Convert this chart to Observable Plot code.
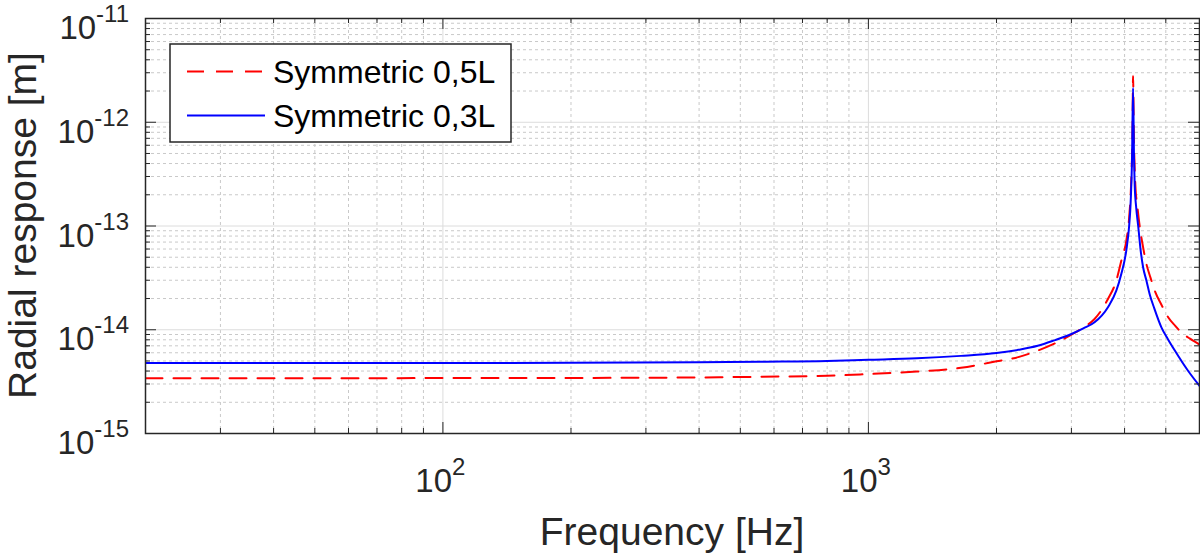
<!DOCTYPE html>
<html>
<head>
<meta charset="utf-8">
<script src="https://cdn.jsdelivr.net/npm/d3@7"></script>
<script src="https://cdn.jsdelivr.net/npm/@observablehq/plot@0.6"></script>
<style>
  html, body { margin: 0; padding: 0; background: #fff; }
  svg { display: block; }
</style>
</head>
<body>
<div id="chart"></div>
<script>
// ---------- data ----------
const seriesNames = ["Symmetric 0,5L", "Symmetric 0,3L"];
const seriesColors = ["#ff0000", "#0000ff"];

const freq05 = [20, 50, 100, 200, 400, 557, 800, 1000, 1300, 1650, 2000, 2250, 2500, 2735, 3000, 3200, 3400, 3656, 3825, 3931, 4037, 4100, 4150, 4175, 4188, 4205, 4240, 4290, 4343, 4420, 4502, 4600, 4710, 4880, 5064, 5250, 5444, 5700, 6000];
const resp05 = [3.40e-15, 3.41e-15, 3.42e-15, 3.43e-15, 3.47e-15, 3.52e-15, 3.60e-15, 3.74e-15, 3.95e-15, 4.30e-15, 4.96e-15, 5.45e-15, 6.30e-15, 7.35e-15, 8.97e-15, 1.05e-14, 1.27e-14, 1.98e-14, 2.98e-14, 4.65e-14, 7.2e-14, 1.2e-13, 3.0e-13, 8e-13, 2.79e-12, 8e-13, 2.5e-13, 1.5e-13, 9.8e-14, 6.3e-14, 4.3e-14, 3.2e-14, 2.38e-14, 1.75e-14, 1.32e-14, 1.10e-14, 9.4e-15, 8.2e-15, 7.2e-15];

const freq03 = [20, 50, 100, 200, 400, 557, 800, 1000, 1300, 1650, 2000, 2250, 2500, 2735, 3000, 3200, 3400, 3656, 3825, 3931, 4037, 4100, 4134, 4165, 4188, 4210, 4225, 4260, 4306, 4360, 4422, 4500, 4582, 4700, 4885, 5050, 5250, 5644, 6000];
const resp03 = [4.77e-15, 4.78e-15, 4.79e-15, 4.80e-15, 4.85e-15, 4.92e-15, 5.00e-15, 5.13e-15, 5.30e-15, 5.60e-15, 5.97e-15, 6.40e-15, 7.00e-15, 7.90e-15, 9.10e-15, 1.03e-14, 1.18e-14, 1.65e-14, 2.38e-14, 3.47e-14, 5.8e-14, 1.0e-13, 1.7e-13, 4.5e-13, 2.14e-12, 4.5e-13, 2.5e-13, 1.5e-13, 1.0e-13, 6.0e-14, 4.0e-14, 3.0e-14, 2.2e-14, 1.6e-14, 1.05e-14, 8.2e-15, 6.3e-15, 4.0e-15, 2.88e-15];

const xDomain = [20, 6000];
const yDomain = [1e-15, 1e-11];
const xTickExps = [2, 3];
const yTickExps = [-15, -14, -13, -12, -11];
const xTitle = "Frequency [Hz]";
const yTitle = "Radial response [m]";

// ---------- derived tables ----------
const data05 = freq05.map((f, i) => ({f, r: resp05[i]}));
const data03 = freq03.map((f, i) => ({f, r: resp03[i]}));
const majorX = xTickExps.map(e => 10 ** e);
const majorY = yTickExps.map(e => 10 ** e);
const minorX = [];
for (let d = 1; d <= 3; d++) for (let m = 2; m <= 9; m++) {
  const v = m * 10 ** d;
  if (v > xDomain[0] && v < xDomain[1]) minorX.push(v);
}
const minorY = [];
for (let d = -15; d <= -12; d++) for (let m = 2; m <= 9; m++) minorY.push(m * 10 ** d);

const FONT = "'Liberation Sans', Arial, Helvetica, sans-serif";
const INK = "#262626";
const W = 1200, H = 559;
const mL = 145, mR = 1, mT = 18, mB = 126;
const innerW = W - mL - mR, innerH = H - mT - mB;
const majLen = 11, minLen = 5;

const plot = Plot.plot({
  width: W, height: H,
  marginLeft: mL, marginRight: mR, marginTop: mT, marginBottom: mB,
  x: {type: "log", domain: xDomain, axis: null},
  y: {type: "log", domain: yDomain, axis: null},
  style: {fontFamily: FONT, background: "#fff", overflow: "visible"},
  marks: [
    Plot.ruleX(minorX, {x: d => d, stroke: "#c9c9c9", strokeWidth: 1, strokeDasharray: "3,3"}),
    Plot.ruleY(minorY, {y: d => d, stroke: "#c9c9c9", strokeWidth: 1, strokeDasharray: "3,3"}),
    Plot.ruleX(majorX, {x: d => d, stroke: "#dcdcdc", strokeWidth: 1}),
    Plot.ruleY(majorY, {y: d => d, stroke: "#dcdcdc", strokeWidth: 1}),
    Plot.line(data05, {x: "f", y: "r", stroke: seriesColors[0], strokeWidth: 2, strokeDasharray: "17,11", curve: "monotone-x", clip: true}),
    Plot.line(data03, {x: "f", y: "r", stroke: seriesColors[1], strokeWidth: 2, curve: "monotone-x", clip: true}),
    // inward ticks (bottom/top)
    Plot.tickX(majorX, {x: d => d, stroke: INK, insetTop: innerH - majLen}),
    Plot.tickX(majorX, {x: d => d, stroke: INK, insetBottom: innerH - majLen}),
    Plot.tickX(minorX, {x: d => d, stroke: INK, insetTop: innerH - minLen}),
    Plot.tickX(minorX, {x: d => d, stroke: INK, insetBottom: innerH - minLen}),
    // inward ticks (left/right)
    Plot.tickY(majorY, {y: d => d, stroke: INK, insetRight: innerW - majLen}),
    Plot.tickY(majorY, {y: d => d, stroke: INK, insetLeft: innerW - majLen}),
    Plot.tickY(minorY, {y: d => d, stroke: INK, insetRight: innerW - minLen}),
    Plot.tickY(minorY, {y: d => d, stroke: INK, insetLeft: innerW - minLen}),
    Plot.frame({stroke: INK, strokeWidth: 1.5})
  ]
});
document.getElementById("chart").appendChild(plot);

// scale helpers from Plot
const sxObj = plot.scale("x"), syObj = plot.scale("y");
const sx = sxObj.apply ? (v => sxObj.apply(v)) : d3.scaleLog().domain(xDomain).range([mL, W - mR]);
const sy = syObj.apply ? (v => syObj.apply(v)) : d3.scaleLog().domain(yDomain).range([H - mB, mT]);

const svg = d3.select(plot);
const g = svg.append("g").attr("fill", INK).style("font-family", FONT);
const expText = e => String(e);

// x tick labels 10^n
const xAxisY = sy(yDomain[0]);
xTickExps.forEach(e => {
  const t = g.append("text")
    .attr("x", sx(10 ** e) - 2)
    .attr("y", xAxisY + 59)
    .attr("text-anchor", "middle")
    .attr("font-size", 33);
  t.append("tspan").text("10");
  t.append("tspan").attr("dy", -17).attr("font-size", 24).text(expText(e));
});

// y tick labels 10^n
const yAxisX = sx(xDomain[0]);
yTickExps.forEach(e => {
  const t = g.append("text")
    .attr("x", yAxisX - 16)
    .attr("y", sy(10 ** e) + 21)
    .attr("text-anchor", "end")
    .attr("font-size", 33);
  t.append("tspan").text("10");
  t.append("tspan").attr("dy", -17).attr("font-size", 24).text(expText(e));
});

// axis titles
g.append("text")
  .attr("x", (sx(xDomain[0]) + sx(xDomain[1])) / 2)
  .attr("y", 545)
  .attr("text-anchor", "middle")
  .attr("font-size", 39)
  .text(xTitle);
g.append("text")
  .attr("transform", `translate(35.5,${(sy(yDomain[0]) + sy(yDomain[1])) / 2}) rotate(-90)`)
  .attr("text-anchor", "middle")
  .attr("font-size", 39)
  .text(yTitle);

// legend
const lg = svg.append("g").style("font-family", FONT);
lg.append("rect")
  .attr("x", 170).attr("y", 44).attr("width", 341).attr("height", 98)
  .attr("fill", "#fff").attr("stroke", INK).attr("stroke-width", 1.5);
const rowsY = [71.5, 115.5];
seriesNames.forEach((name, i) => {
  lg.append("line")
    .attr("x1", 187).attr("x2", 265)
    .attr("y1", rowsY[i]).attr("y2", rowsY[i])
    .attr("stroke", seriesColors[i]).attr("stroke-width", 2)
    .attr("stroke-dasharray", i === 0 ? "17,12" : null);
  lg.append("text")
    .attr("x", 273).attr("y", rowsY[i] + 11.5)
    .attr("text-anchor", "start")
    .attr("font-size", 32).attr("fill", "#000")
    .text(name);
});
</script>
</body>
</html>
